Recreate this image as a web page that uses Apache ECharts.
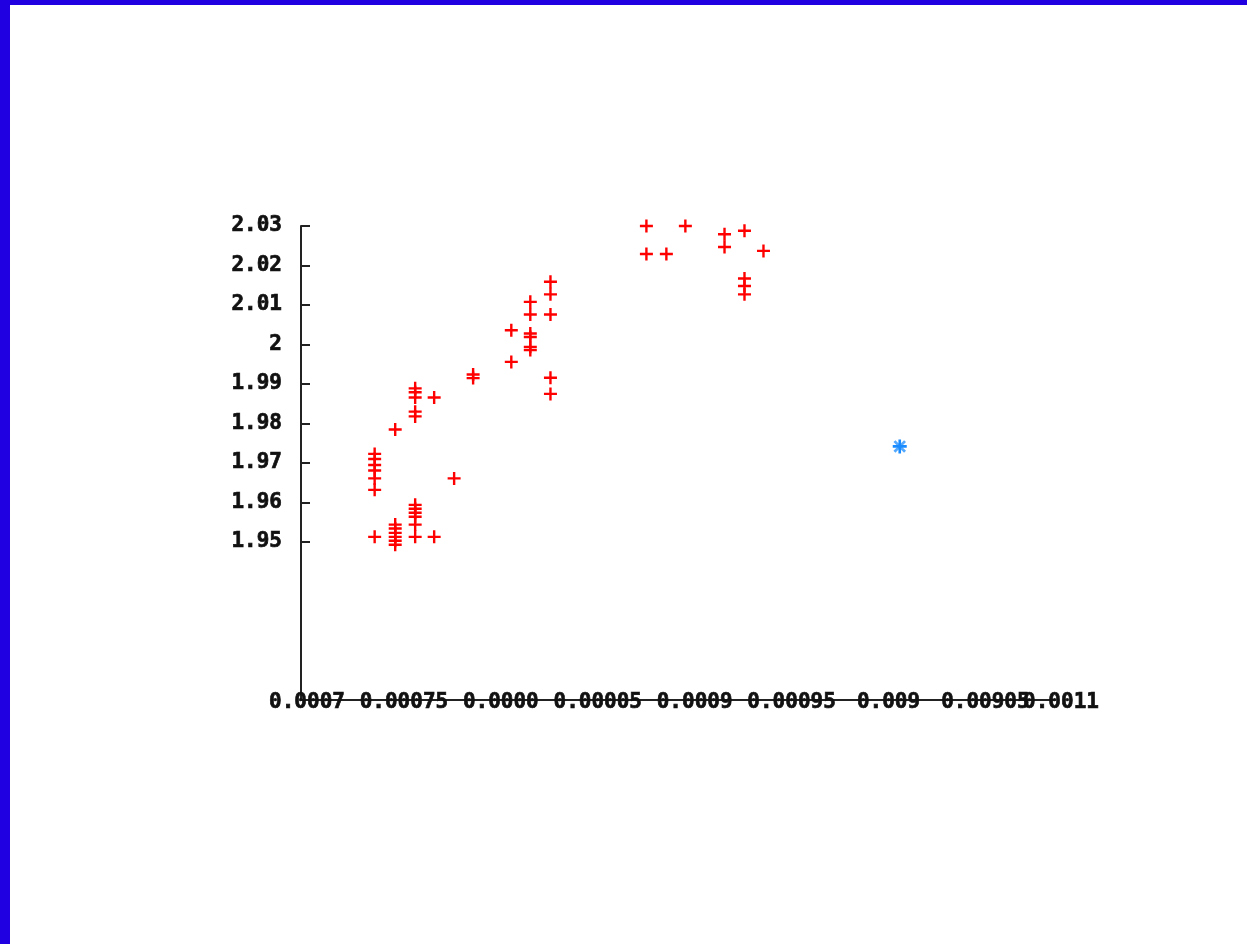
<!DOCTYPE html>
<html>
<head>
<meta charset="utf-8">
<script src="https://cdn.jsdelivr.net/npm/echarts@6/dist/echarts.min.js"></script>
<style>
html,body{margin:0;padding:0;background:#fff;}
#chart{width:1247px;height:944px;}
</style>
</head>
<body>
<div id="chart"></div>
<script>
// ---- data ----
const crossX = [
  0.000738,0.000738,0.000738,0.000738,0.000738,0.000738,0.000738,
  0.0007486,0.0007486,0.0007486,0.0007486,0.0007486,0.0007486,0.0007486,
  0.0007589,0.0007589,0.0007589,0.0007589,0.0007589,0.0007589,0.0007589,0.0007589,0.0007589,0.0007589,0.0007589,
  0.0007687,0.0007687,
  0.000779,
  0.0007888,0.0007888,
  0.0008085,0.0008085,
  0.0008183,0.0008183,0.0008183,0.0008183,0.0008183,0.0008183,
  0.0008287,0.0008287,0.0008287,0.0008287,0.0008287,
  0.0008782,0.0008782,
  0.0008885,
  0.0008983,
  0.0009185,0.0009185,
  0.0009288,0.0009288,0.0009288,0.0009288,
  0.0009386
];
const crossY = [
  1.9723,1.9710,1.9695,1.9681,1.9661,1.9632,1.9513,
  1.9785,1.9544,1.9534,1.9523,1.9513,1.9503,1.9493,
  1.9889,1.9879,1.9866,1.9830,1.9818,1.9594,1.9584,1.9574,1.9564,1.9544,1.9513,
  1.9866,1.9513,
  1.9661,
  1.9924,1.9915,
  2.0036,1.9956,
  2.0108,2.0076,2.0028,2.0019,1.9994,1.9986,
  2.0159,2.0127,2.0076,1.9916,1.9875,
  2.0300,2.0229,
  2.0229,
  2.0300,
  2.0279,2.0247,
  2.0288,2.0167,2.0148,2.0127,
  2.0237
];
const starX = [0.0010089];
const starY = [1.9742];

const xTickValues = [0.0007,0.00075,0.0008,0.00085,0.0009,0.00095,0.001,0.00105];
const xTickLabels = ['0.0007','0.00075','0.0000','0.00005','0.0009','0.00095','0.009','0.00905'];
const xEndValues = [0.001089];
const xEndLabels = ['0.0011'];
const yTickValues = [1.95,1.96,1.97,1.98,1.99,2.00,2.01,2.02,2.03];
const yTickLabels = ['1.95','1.96','1.97','1.98','1.99','2','2.01','2.02','2.03'];

// ---- build ----
const crossData = crossX.map((x,i)=>[x,crossY[i]]);
const starData = starX.map((x,i)=>[x,starY[i]]);
const plusPath = 'path://M5.3,0H7.7V13H5.3ZM0,5.3H13V7.7H0Z';
function lookup(vals, labels, v){
  for(let i=0;i<vals.length;i++){ if(Math.abs(vals[i]-v) < 1e-9) return labels[i]; }
  return '';
}
const fontBase = {fontFamily:'DejaVu Sans Mono', fontWeight:'bold', fontSize:21, color:'#111',
  textBorderColor:'#111', textBorderWidth:0.7};
const X_MIN = 0.0007, X_MAX = 0.001089;

function xLabelCfg(vals, labels){
  return Object.assign({}, fontBase, {
    customValues:vals,
    showMinLabel:true, showMaxLabel:true,
    verticalAlign:'middle', margin:3,
    padding:[0,0,0,12],
    hideOverlap:false,
    formatter:(v)=>lookup(vals, labels, v)
  });
}

const chart = echarts.init(document.getElementById('chart'), null, {renderer:'canvas'});
chart.setOption({
  animation:false,
  backgroundColor:'#fff',
  graphic:[
    {type:'rect', shape:{x:0,y:0,width:1247,height:5}, style:{fill:'#2000e0'}, z:100},
    {type:'rect', shape:{x:0,y:0,width:10,height:944}, style:{fill:'#2000e0'}, z:100}
  ],
  grid:{left:301, top:226, right:192, bottom:244, containLabel:false},
  xAxis:[{
    type:'value', min:X_MIN, max:X_MAX,
    splitLine:{show:false},
    axisLine:{show:true, onZero:false, lineStyle:{color:'#222', width:2}},
    axisTick:{show:false},
    axisLabel:xLabelCfg(xTickValues, xTickLabels)
  },{
    type:'value', min:X_MIN, max:X_MAX, position:'bottom',
    splitLine:{show:false},
    axisLine:{show:false, onZero:false},
    axisTick:{show:false},
    axisLabel:xLabelCfg(xEndValues, xEndLabels)
  }],
  yAxis:{
    type:'value', min:1.91, max:2.03,
    splitLine:{show:false},
    axisLine:{show:true, onZero:false, lineStyle:{color:'#222', width:2}},
    axisTick:{show:true, inside:true, length:9, customValues:yTickValues, lineStyle:{color:'#222', width:2}},
    axisLabel:Object.assign({}, fontBase, {
      customValues:yTickValues,
      margin:19, padding:[6,0,0,0],
      formatter:(v)=>lookup(yTickValues, yTickLabels, v)
    })
  },
  series:[
    {type:'scatter', data:crossData, symbol:plusPath, symbolSize:13,
     itemStyle:{color:'#ff0000', opacity:1}, silent:true},
    {type:'scatter', data:starData, symbol:plusPath, symbolSize:15, symbolRotate:45,
     itemStyle:{color:'#55aaff', opacity:1}, silent:true},
    {type:'scatter', data:starData, symbol:plusPath, symbolSize:14,
     itemStyle:{color:'#1a8cff', opacity:1}, silent:true}
  ]
});
</script>
</body>
</html>
